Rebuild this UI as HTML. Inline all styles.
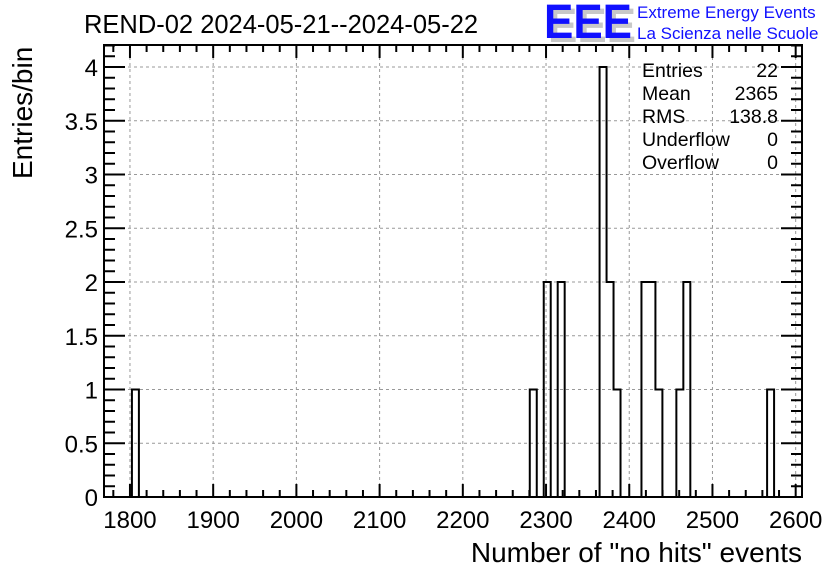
<!DOCTYPE html>
<html><head><meta charset="utf-8"><style>
body{margin:0;background:#fff}
svg text{font-family:"Liberation Sans",sans-serif}
</style></head><body>
<svg id="c" width="836" height="572" viewBox="0 0 836 572" xmlns="http://www.w3.org/2000/svg">
<text x="84" y="33" font-size="25.5">REND-02 2024-05-21--2024-05-22</text>
<g>
<text x="548" y="42" font-size="48" font-weight="bold" fill="#c8c8c8" textLength="88" lengthAdjust="spacingAndGlyphs">EEE</text>
<text x="544" y="38" font-size="48" font-weight="bold" fill="#1010ff" textLength="88" lengthAdjust="spacingAndGlyphs">EEE</text>
<text x="637" y="18" font-size="17" fill="#1010ff">Extreme Energy Events</text>
<text x="637" y="39" font-size="17" fill="#1010ff">La Scienza nelle Scuole</text>
</g>
<g id="grid"></g>
<g id="ticks"></g>
<path id="hist" fill="none" stroke="#000" stroke-width="2"/>
<rect x="104" y="45" width="698" height="452" fill="none" stroke="#000" stroke-width="2"/>
<g font-size="19.5">
<text x="642" y="77">Entries</text><text x="778" y="77" text-anchor="end">22</text>
<text x="642" y="100">Mean</text><text x="778" y="100" text-anchor="end">2365</text>
<text x="642" y="123">RMS</text><text x="778" y="123" text-anchor="end">138.8</text>
<text x="642" y="146">Underflow</text><text x="778" y="146" text-anchor="end">0</text>
<text x="642" y="169">Overflow</text><text x="778" y="169" text-anchor="end">0</text>
</g>
<text x="802" y="562" font-size="28" text-anchor="end">Number of "no hits" events</text>
<text transform="translate(32,179) rotate(-90)" font-size="28">Entries/bin</text>
</svg>
<script>
const binCenters=[1806.6,2285.4,2302.1,2318.9,2369.3,2377.7,2386.1,2419.6,2428.0,2436.4,2461.6,2470.0,2570.7];
const binCounts=[1,1,2,2,4,2,1,2,2,1,1,2,1];
const xTickLabels=[1800,1900,2000,2100,2200,2300,2400,2500,2600];
const yTickLabels=[0,0.5,1,1.5,2,2.5,3,3.5,4];
const XMIN=1768.8,XMAX=2607.6,NBINS=100;
const L=104,R=802,T=45,B=497;
const sx=v=>L+(v-XMIN)/(XMAX-XMIN)*(R-L);
const sy=v=>B-v*107.5;
const NS='http://www.w3.org/2000/svg';
function mk(tag,at,parent){const e=document.createElementNS(NS,tag);for(const k in at)e.setAttribute(k,at[k]);parent.appendChild(e);return e;}
const svg=document.getElementById('c'),grid=document.getElementById('grid'),ticks=document.getElementById('ticks');
const bw=(XMAX-XMIN)/NBINS;
const counts=new Array(NBINS).fill(0);
binCenters.forEach((c,i)=>{const k=Math.floor((c-XMIN)/bw);if(k>=0&&k<NBINS)counts[k]+=binCounts[i];});
let d='M'+sx(XMIN)+','+sy(0);
for(let k=0;k<NBINS;k++){const x0=sx(XMIN+k*bw),x1=sx(XMIN+(k+1)*bw);d+=' L'+x0+','+sy(counts[k])+' L'+x1+','+sy(counts[k]);}
d+=' L'+sx(XMAX)+','+sy(0);
document.getElementById('hist').setAttribute('d',d);
xTickLabels.forEach(v=>{
 const x=sx(v);
 const g=mk('line',{x1:x,x2:x,y1:T,y2:B,stroke:'#999','stroke-dasharray':'3,3','stroke-width':1},grid);
 
 
 const t=mk('text',{x:x,y:528,'font-size':24,'text-anchor':'middle'},svg);
 t.textContent=v;
 
 
});
for(let v=1780;v<=2600;v+=20){
 const x=sx(v),len=(v%100===0)?13:7;
 mk('line',{x1:x,x2:x,y1:B,y2:B-len,stroke:'#000','stroke-width':2},ticks);
 mk('line',{x1:x,x2:x,y1:T,y2:T+len,stroke:'#000','stroke-width':2},ticks);
}
yTickLabels.forEach(v=>{
 const y=sy(v);
 if(v>0){const g=mk('line',{x1:L,x2:R,y1:y,y2:y,stroke:'#999','stroke-dasharray':'3,3','stroke-width':1},grid);
 
 }
 const t=mk('text',{x:98,y:y+9,'font-size':24,'text-anchor':'end'},svg);
 t.textContent=v;
 
 
});
for(let i=0;i<=42;i++){
 const v=i/10,y=sy(v),len=(i%5===0)?21:11;
 mk('line',{x1:L,x2:L+len,y1:y,y2:y,stroke:'#000','stroke-width':2},ticks);
 mk('line',{x1:R,x2:R-len,y1:y,y2:y,stroke:'#000','stroke-width':2},ticks);
}
</script>
</body></html>
